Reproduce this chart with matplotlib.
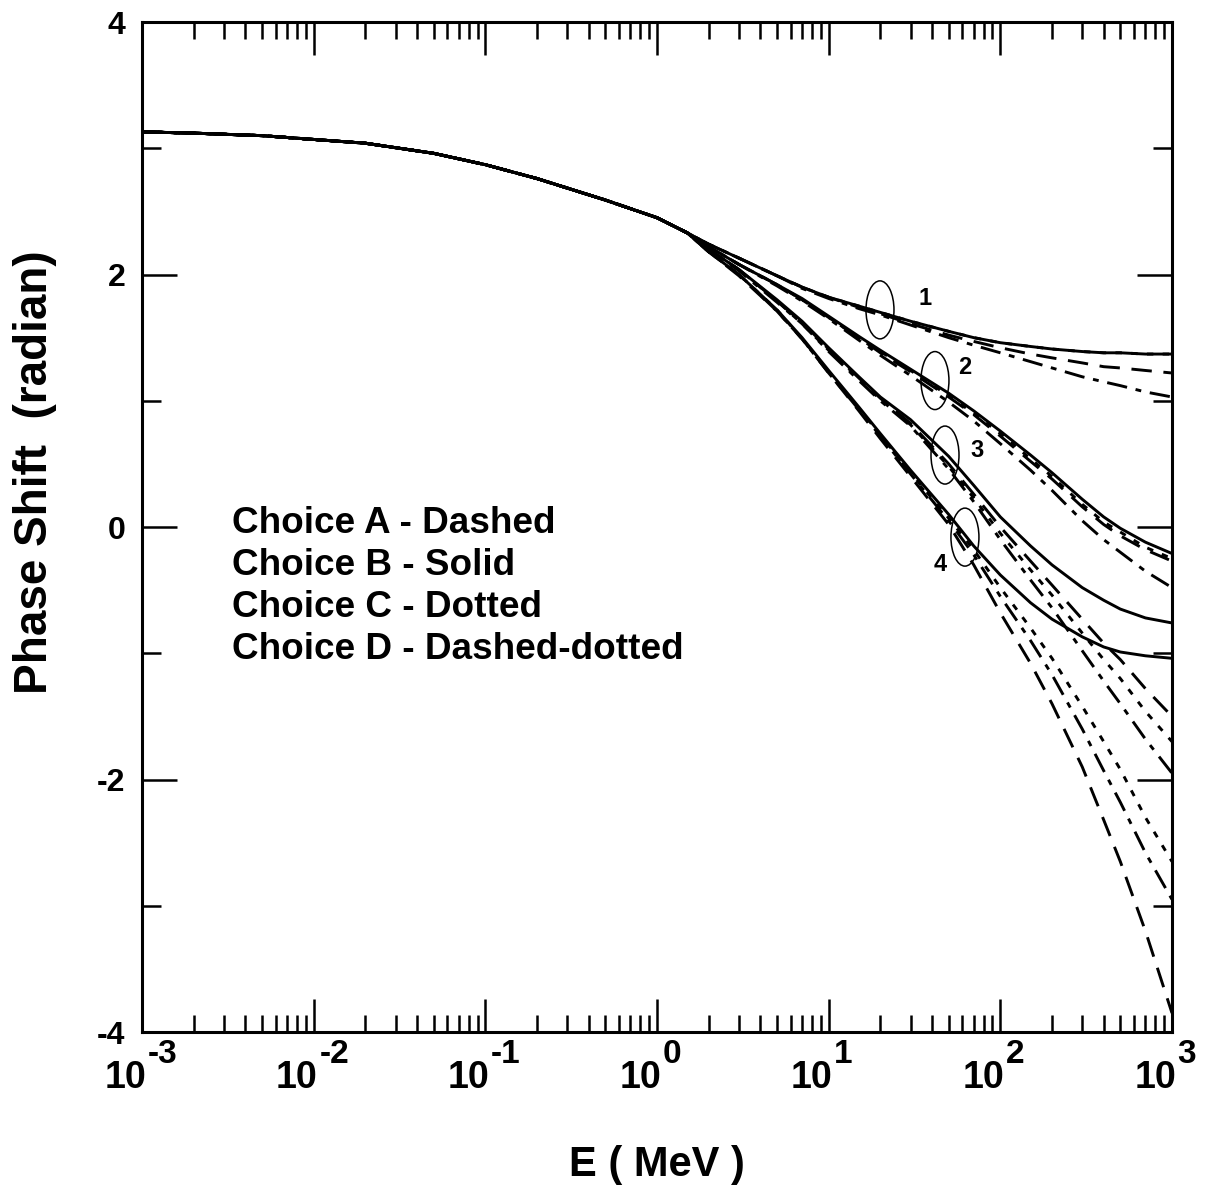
from __future__ import annotations

import matplotlib

matplotlib.use("Agg")
import matplotlib.pyplot as plt
import matplotlib.transforms as mtransforms
from matplotlib.patches import Ellipse
from matplotlib.ticker import FixedLocator, LogLocator, MultipleLocator, NullFormatter


# energy grid (MeV)
ENERGY_LOW = [0.001, 0.002, 0.005, 0.01, 0.02, 0.05, 0.1, 0.2, 0.5, 1.0, 1.5]
ENERGY_HIGH = [2, 3, 5, 7, 10, 15, 20, 30, 50, 70, 100, 150, 200, 300, 400, 500, 700, 1000]

# all choices coincide below ~1.5 MeV
TRUNK = [3.13, 3.12, 3.10, 3.07, 3.04, 2.96, 2.87, 2.76, 2.59, 2.45, 2.33]

# potential 1
P1_A = [2.24, 2.13, 1.99, 1.90, 1.82, 1.74, 1.69, 1.61, 1.52, 1.47, 1.42, 1.37, 1.34, 1.30, 1.27, 1.26, 1.24, 1.22]
P1_B = [2.24, 2.13, 1.99, 1.90, 1.82, 1.75, 1.70, 1.63, 1.55, 1.50, 1.46, 1.43, 1.41, 1.39, 1.38, 1.38, 1.37, 1.37]
P1_C = [2.24, 2.13, 1.99, 1.90, 1.82, 1.75, 1.70, 1.63, 1.55, 1.50, 1.46, 1.43, 1.41, 1.39, 1.38, 1.38, 1.37, 1.37]
P1_D = [2.24, 2.13, 1.99, 1.89, 1.81, 1.73, 1.68, 1.60, 1.50, 1.44, 1.38, 1.31, 1.26, 1.19, 1.15, 1.12, 1.07, 1.03]

# potential 2
P2_A = [2.22, 2.08, 1.92, 1.80, 1.66, 1.50, 1.38, 1.23, 1.03, 0.89, 0.72, 0.52, 0.38, 0.16, 0.02, -0.07, -0.18, -0.27]
P2_B = [2.22, 2.08, 1.92, 1.81, 1.67, 1.51, 1.40, 1.25, 1.06, 0.92, 0.76, 0.57, 0.43, 0.22, 0.08, -0.01, -0.12, -0.21]
P2_C = [2.22, 2.08, 1.92, 1.80, 1.66, 1.50, 1.39, 1.24, 1.04, 0.90, 0.74, 0.54, 0.40, 0.18, 0.04, -0.04, -0.16, -0.25]
P2_D = [2.22, 2.08, 1.91, 1.79, 1.65, 1.48, 1.36, 1.20, 0.99, 0.84, 0.66, 0.45, 0.29, 0.05, -0.10, -0.20, -0.35, -0.48]

# potential 3
P3_A = [2.20, 2.04, 1.79, 1.62, 1.41, 1.18, 1.02, 0.82, 0.50, 0.26, 0.00, -0.27, -0.46, -0.73, -0.92, -1.05, -1.28, -1.50]
P3_B = [2.20, 2.04, 1.80, 1.63, 1.42, 1.19, 1.03, 0.85, 0.56, 0.33, 0.08, -0.15, -0.30, -0.48, -0.58, -0.65, -0.72, -0.76]
P3_C = [2.20, 2.04, 1.79, 1.61, 1.40, 1.17, 1.01, 0.81, 0.48, 0.23, -0.05, -0.34, -0.54, -0.84, -1.05, -1.20, -1.46, -1.70]
P3_D = [2.20, 2.03, 1.78, 1.61, 1.39, 1.16, 1.00, 0.80, 0.46, 0.20, -0.10, -0.42, -0.64, -0.98, -1.22, -1.40, -1.68, -1.95]

# potential 4
P4_A = [2.18, 1.99, 1.71, 1.49, 1.22, 0.92, 0.70, 0.40, 0.02, -0.30, -0.68, -1.08, -1.40, -1.90, -2.32, -2.65, -3.20, -3.85]
P4_B = [2.18, 2.00, 1.72, 1.50, 1.24, 0.95, 0.74, 0.45, 0.10, -0.15, -0.38, -0.60, -0.73, -0.87, -0.95, -0.99, -1.02, -1.04]
P4_C = [2.18, 2.00, 1.72, 1.49, 1.23, 0.94, 0.73, 0.43, 0.07, -0.18, -0.48, -0.80, -1.04, -1.42, -1.70, -1.92, -2.30, -2.65]
P4_D = [2.18, 2.00, 1.71, 1.49, 1.22, 0.93, 0.72, 0.42, 0.05, -0.22, -0.55, -0.90, -1.17, -1.60, -1.93, -2.18, -2.58, -2.95]

# ellipse markers and labels (E, phase)
MARK_E = [19.9, 41.6, 47.6, 62.2]
MARK_Y = [1.72, 1.16, 0.57, -0.08]
LABEL_TEXT = ["1", "2", "3", "4"]
LABEL_E = [36.4, 62.2, 73.1, 44.5]
LABEL_Y = [1.81, 1.26, 0.61, -0.30]

LEGEND_LINES = [
    "Choice A - Dashed",
    "Choice B - Solid",
    "Choice C - Dotted",
    "Choice D - Dashed-dotted",
]

XTICKS = [1e-3, 1e-2, 1e-1, 1e0, 1e1, 1e2, 1e3]
XTICK_EXPONENTS = ["-3", "-2", "-1", "0", "1", "2", "3"]
YTICKS = [-4, -2, 0, 2, 4]

STYLES = {
    "A": (0, (7, 4)),
    "B": "-",
    "C": (0, (2.2, 3.2)),
    "D": (0, (7, 3, 2, 3)),
}


def draw_decade_labels(fig, ax) -> None:
    base = ax.get_xaxis_transform()
    for tick, exp in zip(XTICKS, XTICK_EXPONENTS):
        t10 = mtransforms.offset_copy(base, fig, x=3, y=-40, units="points")
        ax.text(tick, 0, "10", transform=t10, fontsize=27, fontweight="bold",
                ha="right", va="baseline", clip_on=False)
        texp = mtransforms.offset_copy(base, fig, x=4, y=-22, units="points")
        ax.text(tick, 0, exp, transform=texp, fontsize=24, fontweight="bold",
                ha="left", va="baseline", clip_on=False)


def main() -> None:
    plt.rcParams["font.family"] = ["Liberation Sans", "DejaVu Sans"]
    plt.rcParams["font.weight"] = "bold"
    plt.rcParams["axes.unicode_minus"] = False

    fig = plt.figure(figsize=(12.13, 11.91), dpi=100)
    ax = fig.add_axes([0.1171, 0.1335, 0.8491, 0.8480])

    energy = ENERGY_LOW + ENERGY_HIGH
    curves = {
        "A": [P1_A, P2_A, P3_A, P4_A],
        "B": [P1_B, P2_B, P3_B, P4_B],
        "C": [P1_C, P2_C, P3_C, P4_C],
        "D": [P1_D, P2_D, P3_D, P4_D],
    }
    for choice in ["C", "D", "A", "B"]:
        for tail in curves[choice]:
            ax.plot(
                energy,
                TRUNK + tail,
                color="black",
                linewidth=2.1,
                linestyle=STYLES[choice],
                solid_capstyle="butt",
                dash_capstyle="butt",
                solid_joinstyle="round",
            )

    # ellipses with a fixed physical size around data points
    for e, y in zip(MARK_E, MARK_Y):
        trans = fig.dpi_scale_trans + mtransforms.ScaledTranslation(e, y, ax.transData)
        ax.add_patch(
            Ellipse((0, 0), 0.28, 0.58, fill=False, edgecolor="black", linewidth=1.1, transform=trans)
        )
    for text, e, y in zip(LABEL_TEXT, LABEL_E, LABEL_Y):
        ax.text(e, y, text, fontsize=17, fontweight="bold", ha="center", va="center")

    for i, line in enumerate(LEGEND_LINES):
        ax.text(0.0874, 0.503 - i * 0.0413, line, transform=ax.transAxes, fontsize=26.6,
                fontweight="bold", ha="left", va="center")

    ax.set_xscale("log")
    ax.set_xlim(1e-3, 1e3)
    ax.set_ylim(-4, 4)

    ax.xaxis.set_major_locator(FixedLocator(XTICKS))
    ax.xaxis.set_major_formatter(NullFormatter())
    ax.xaxis.set_minor_locator(LogLocator(base=10, subs=range(2, 10), numticks=20))
    ax.xaxis.set_minor_formatter(NullFormatter())
    ax.set_yticks(YTICKS)
    ax.set_yticklabels([str(v) for v in YTICKS])
    ax.yaxis.set_minor_locator(MultipleLocator(1))
    draw_decade_labels(fig, ax)

    ax.tick_params(axis="both", which="both", direction="in", top=True, right=True, width=1.8)
    ax.tick_params(axis="x", which="major", length=24)
    ax.tick_params(axis="x", which="minor", length=12)
    ax.tick_params(axis="y", which="major", length=25, labelsize=23, pad=12)
    ax.tick_params(axis="y", which="minor", length=14)
    for spine in ax.spines.values():
        spine.set_linewidth(2.2)

    ax.set_xlabel("E ( MeV )", fontsize=30, fontweight="bold")
    ax.xaxis.set_label_coords(0.5, -0.112)
    ax.set_ylabel("Phase Shift  (radian)", fontsize=33, fontweight="bold")
    ax.yaxis.set_label_coords(-0.083, 0.554)

    fig.savefig("out.png", dpi=100)
    plt.close(fig)


if __name__ == "__main__":
    main()
